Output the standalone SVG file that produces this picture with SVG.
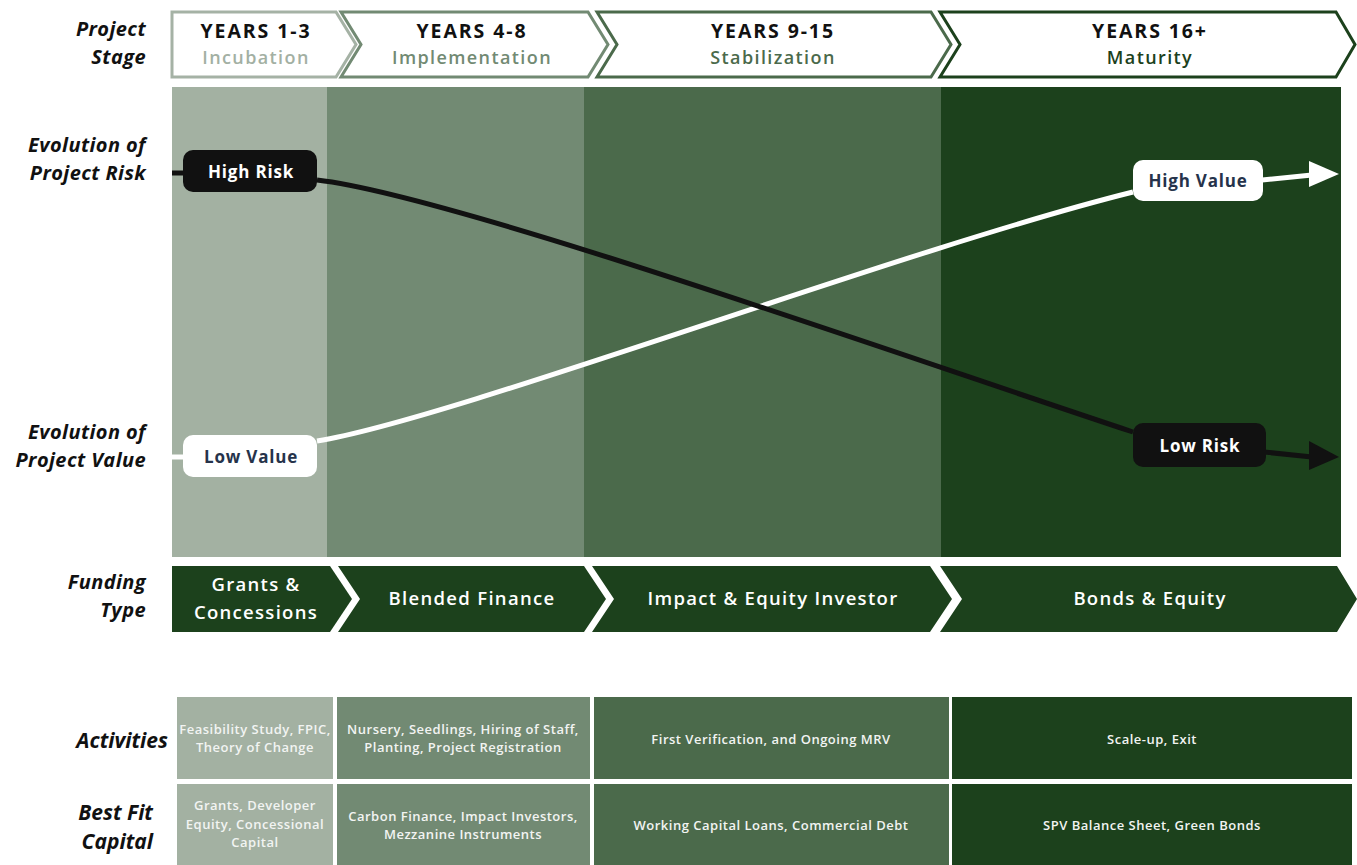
<svg xmlns="http://www.w3.org/2000/svg" width="1357" height="865" viewBox="0 0 1357 865">
<style>
.lbl{font-family:"Open Sans","Liberation Sans",sans-serif;font-style:italic;font-weight:700;font-size:20px;letter-spacing:0.4px;fill:#111;text-anchor:end}
.lbl2{font-family:"Open Sans","Liberation Sans",sans-serif;font-style:italic;font-weight:700;font-size:21px;fill:#111;text-anchor:end}
.yr{font-family:"Open Sans","Liberation Sans",sans-serif;font-weight:700;font-size:19.5px;letter-spacing:1.9px;fill:#111;text-anchor:middle}
.st{font-family:"Open Sans","Liberation Sans",sans-serif;font-weight:600;font-size:18px;letter-spacing:1.4px;text-anchor:middle}
.ft{font-family:"Open Sans","Liberation Sans",sans-serif;font-weight:600;font-size:18.5px;letter-spacing:1.3px;fill:#fff;text-anchor:middle}
.tb{font-family:"Open Sans","Liberation Sans",sans-serif;font-weight:600;font-size:13px;letter-spacing:0.5px;fill:#f2f4f2;text-anchor:middle}
.bx{font-family:"Open Sans","Liberation Sans",sans-serif;font-weight:700;font-size:17px;letter-spacing:0.8px;text-anchor:middle}
.c1{fill:#a3b1a2}.c2{fill:#728a73}.c3{fill:#4b6a4b}.c4{fill:#1c411c}
.hd{fill:#fff;stroke-width:3;stroke-linejoin:miter}
</style>
<rect width="1357" height="865" fill="#fff"/>

<g id="row-labels">
<text class="lbl" x="146" y="36">Project</text>
<text class="lbl" x="146" y="64">Stage</text>
<text class="lbl" x="146" y="152">Evolution of</text>
<text class="lbl" x="146" y="180">Project Risk</text>
<text class="lbl" x="146" y="439">Evolution of</text>
<text class="lbl" x="146" y="467">Project Value</text>
<text class="lbl" x="146" y="589">Funding</text>
<text class="lbl" x="146" y="617">Type</text>
<text class="lbl2" x="168" y="748">Activities</text>
<text class="lbl2" x="153" y="820">Best Fit</text>
<text class="lbl2" x="153" y="849">Capital</text>
</g>

<g id="stage-1">
<polygon class="hd" stroke="#a5b2a5" points="172,12 336,12 356,44.5 336,77 172,77"/>
<text class="yr" x="256" y="38">YEARS 1-3</text>
<text class="st" x="256" y="64" fill="#a3b0a3">Incubation</text>
</g>
<g id="stage-2">
<polygon class="hd" stroke="#728a73" points="341,12 588,12 608,44.5 588,77 341,77 361,44.5"/>
<text class="yr" x="472" y="38">YEARS 4-8</text>
<text class="st" x="472" y="64" fill="#728a73">Implementation</text>
</g>
<g id="stage-3">
<polygon class="hd" stroke="#4b6a4b" points="597,12 931,12 951,44.5 931,77 597,77 617,44.5"/>
<text class="yr" x="773" y="38">YEARS 9-15</text>
<text class="st" x="773" y="64" fill="#4b6a4b">Stabilization</text>
</g>
<g id="stage-4">
<polygon class="hd" stroke="#1c411c" points="940,12 1336,12 1355,44.5 1336,77 940,77 960,44.5"/>
<text class="yr" x="1150" y="38">YEARS 16+</text>
<text class="st" x="1150" y="64" fill="#1c411c">Maturity</text>
</g>

<g id="chart-bands">
<rect class="c1" x="172" y="87" width="155" height="470"/>
<rect class="c2" x="327" y="87" width="257" height="470"/>
<rect class="c3" x="584" y="87" width="357" height="470"/>
<rect class="c4" x="941" y="87" width="400" height="470"/>
</g>

<g id="connectors">
<line x1="172" y1="457" x2="186" y2="457" stroke="#fff" stroke-width="5"/>
<path d="M317,441 C450,420 900,250 1133,192" fill="none" stroke="#fff" stroke-width="5"/>
<line x1="1262" y1="180" x2="1312" y2="175" stroke="#fff" stroke-width="5"/>
<polygon points="1309,161 1339,174 1309,187" fill="#fff"/>
<line x1="172" y1="173" x2="186" y2="173" stroke="#111" stroke-width="5"/>
<path d="M317,180 C450,195 900,355 1133,432" fill="none" stroke="#111" stroke-width="5"/>
<line x1="1264" y1="452" x2="1312" y2="457" stroke="#111" stroke-width="5"/>
<polygon points="1309,441 1339,457 1309,470" fill="#111"/>
</g>

<g id="high-risk">
<rect x="183" y="150" width="134" height="42" rx="10" fill="#111"/>
<text class="bx" x="251" y="177.5" fill="#fff">High Risk</text>
</g>
<g id="low-value">
<rect x="183" y="435" width="134" height="42" rx="10" fill="#fff"/>
<text class="bx" x="251" y="462.5" fill="#26334b">Low Value</text>
</g>
<g id="high-value">
<rect x="1133" y="160" width="130" height="41" rx="10" fill="#fff"/>
<text class="bx" x="1198" y="187" fill="#26334b">High Value</text>
</g>
<g id="low-risk">
<rect x="1133" y="423" width="133" height="44" rx="10" fill="#111"/>
<text class="bx" x="1200" y="451.5" fill="#fff">Low Risk</text>
</g>

<g id="funding-1">
<polygon class="c4" points="172,566 330,566 352,599 330,632 172,632"/>
<text class="ft" x="256" y="591">Grants &amp;</text>
<text class="ft" x="256" y="619">Concessions</text>
</g>
<g id="funding-2">
<polygon class="c4" points="338,566 584,566 606,599 584,632 338,632 360,599"/>
<text class="ft" x="472" y="605">Blended Finance</text>
</g>
<g id="funding-3">
<polygon class="c4" points="592,566 930,566 952,599 930,632 592,632 614,599"/>
<text class="ft" x="773" y="605">Impact &amp; Equity Investor</text>
</g>
<g id="funding-4">
<polygon class="c4" points="940,566 1337,566 1357,599 1337,632 940,632 962,599"/>
<text class="ft" x="1150" y="605">Bonds &amp; Equity</text>
</g>

<g id="activities">
<rect class="c1" x="177" y="697" width="156" height="82"/>
<text class="tb" x="255" y="734">Feasibility Study, FPIC,</text>
<text class="tb" x="255" y="752">Theory of Change</text>
<rect class="c2" x="337" y="697" width="253" height="82"/>
<text class="tb" x="463" y="734">Nursery, Seedlings, Hiring of Staff,</text>
<text class="tb" x="463" y="752">Planting, Project Registration</text>
<rect class="c3" x="594" y="697" width="355" height="82"/>
<text class="tb" x="771" y="744">First Verification, and Ongoing MRV</text>
<rect class="c4" x="952" y="697" width="400" height="82"/>
<text class="tb" x="1152" y="744">Scale-up, Exit</text>
</g>

<g id="best-fit-capital">
<rect class="c1" x="177" y="784" width="156" height="81"/>
<text class="tb" x="255" y="810">Grants, Developer</text>
<text class="tb" x="255" y="829">Equity, Concessional</text>
<text class="tb" x="255" y="847">Capital</text>
<rect class="c2" x="337" y="784" width="253" height="81"/>
<text class="tb" x="463" y="821">Carbon Finance, Impact Investors,</text>
<text class="tb" x="463" y="839">Mezzanine Instruments</text>
<rect class="c3" x="594" y="784" width="355" height="81"/>
<text class="tb" x="771" y="830">Working Capital Loans, Commercial Debt</text>
<rect class="c4" x="952" y="784" width="400" height="81"/>
<text class="tb" x="1152" y="830">SPV Balance Sheet, Green Bonds</text>
</g>
</svg>
